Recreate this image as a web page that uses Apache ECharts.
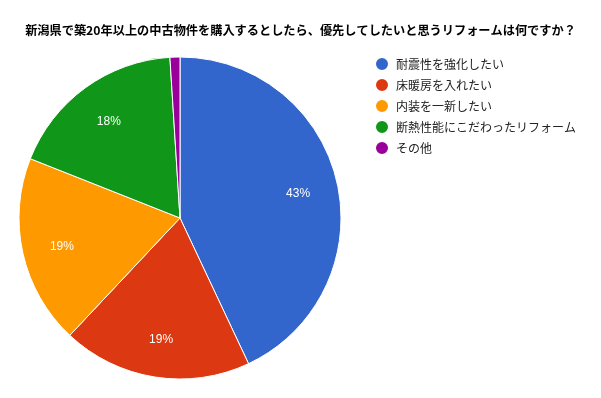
<!DOCTYPE html>
<html>
<head>
<meta charset="utf-8">
<script src="https://cdn.jsdelivr.net/npm/echarts@6/dist/echarts.min.js"></script>
<style>
  html, body { margin: 0; padding: 0; background: #fff; }
  #chart { width: 601px; height: 398px; }
</style>
</head>
<body>
<div id="chart"></div>
<script>
var titleText = '新潟県で築20年以上の中古物件を購入するとしたら、優先してしたいと思うリフォームは何ですか？';
var categories = ['耐震性を強化したい', '床暖房を入れたい', '内装を一新したい', '断熱性能にこだわったリフォーム', 'その他'];
var values = [43, 19, 19, 18, 1];
var colors = ['#3366cc', '#dc3912', '#ff9900', '#109618', '#990099'];

var dom = document.getElementById('chart');
var myChart = echarts.init(dom, null, { renderer: 'canvas' });

var pieData = categories.map(function (name, i) {
    return { name: name, value: values[i] };
});

var option = {
    animation: false,
    color: colors,
    textStyle: { fontFamily: 'Noto Sans CJK JP' },
    title: {
        text: titleText,
        left: 'center',
        top: 19,
        textStyle: { fontSize: 12.2, fontWeight: 'bold', color: '#000', fontFamily: 'Noto Sans CJK JP' }
    },
    legend: {
        orient: 'vertical',
        left: 369,
        top: 51,
        icon: 'circle',
        itemWidth: 18,
        itemHeight: 14,
        itemGap: 5,
        textStyle: { fontSize: 12, color: '#222', fontFamily: 'Noto Sans CJK JP' },
        data: categories
    },
    series: [
        {
            type: 'pie',
            center: [180, 218],
            radius: [0, 161],
            startAngle: 90,
            clockwise: true,
            itemStyle: { borderColor: '#fff', borderWidth: 1 },
            label: { show: false },
            labelLine: { show: false },
            emphasis: { disabled: true },
            data: pieData
        },
        {
            // label carrier: places percentages at ~118px from centre
            type: 'pie',
            center: [180, 218],
            radius: [0, 236],
            startAngle: 90,
            clockwise: true,
            silent: true,
            itemStyle: { color: 'rgba(0,0,0,0)' },
            label: {
                show: true,
                position: 'inside',
                offset: [0, 2],
                color: '#fff',
                fontSize: 12,
                fontFamily: 'Liberation Sans',
                formatter: function (p) {
                    return p.value >= 5 ? Math.round(p.percent) + '%' : '';
                }
            },
            labelLine: { show: false },
            emphasis: { disabled: true },
            data: pieData
        }
    ]
};

myChart.setOption(option);
window.addEventListener('resize', myChart.resize);
</script>
</body>
</html>
